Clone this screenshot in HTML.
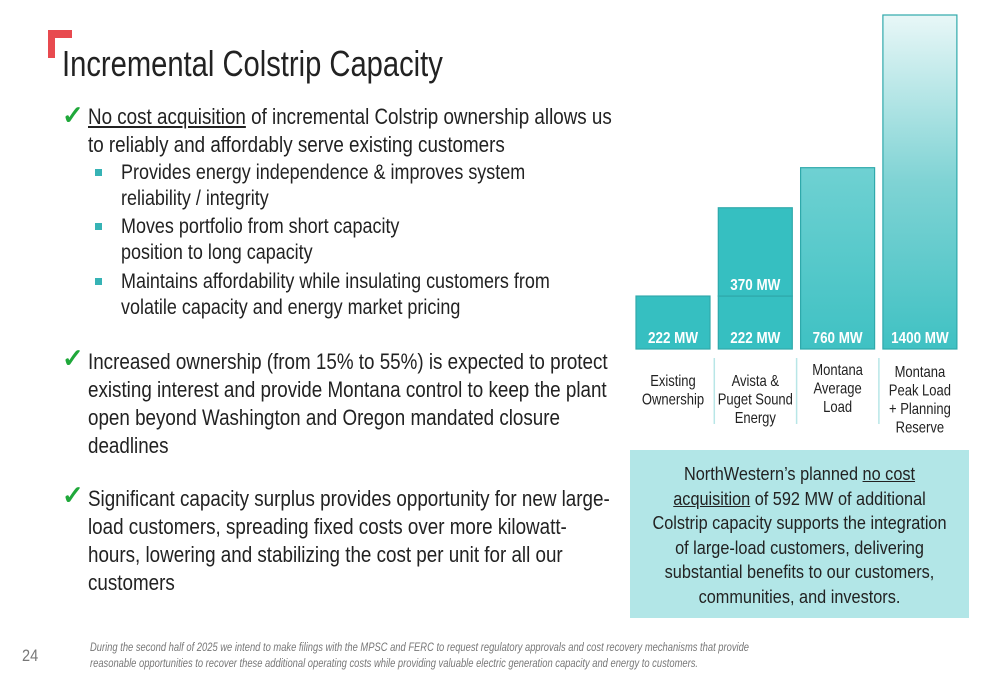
<!DOCTYPE html>
<html><head><meta charset="utf-8"><style>
body{margin:0;width:1000px;height:685px;background:#fff;position:relative;overflow:hidden;font-family:"Liberation Sans Narrow","Liberation Sans",sans-serif;color:#222}
.l{position:absolute;white-space:nowrap;transform:scaleX(0.855);transform-origin:left top}
.m{font-size:22px;line-height:28px}
.s{font-size:21px;line-height:26px}
.chk{position:absolute;color:#1fa83a;font-size:26px;font-weight:bold}
.sq{position:absolute;width:7px;height:7px;background:#36b3b5}
.c{position:absolute;white-space:nowrap;text-align:center;transform:scaleX(0.88)}
</style></head><body>
<div style="position:absolute;left:48px;top:30px;width:24px;height:8px;background:#e84a4f"></div>
<div style="position:absolute;left:48px;top:30px;width:7px;height:28px;background:#e84a4f"></div>
<div class="l" style="left:62px;top:42px;font-size:36px;line-height:44px;transform:scaleX(0.81)">Incremental Colstrip Capacity</div>

<div class="chk" style="left:62px;top:100px">✓</div>
<div class="l m" style="left:88px;top:103px"><u>No cost acquisition</u> of incremental Colstrip ownership allows us<br>to reliably and affordably serve existing customers</div>
<div class="sq" style="left:95px;top:169px"></div>
<div class="l s" style="left:121px;top:160px">Provides energy independence &amp; improves system<br>reliability / integrity</div>
<div class="sq" style="left:95px;top:223px"></div>
<div class="l s" style="left:121px;top:214px">Moves portfolio from short capacity<br>position to long capacity</div>
<div class="sq" style="left:95px;top:278px"></div>
<div class="l s" style="left:121px;top:269px">Maintains affordability while insulating customers from<br>volatile capacity and energy market pricing</div>

<div class="chk" style="left:62px;top:343px">✓</div>
<div class="l m" style="left:88px;top:348px">Increased ownership (from 15% to 55%) is expected to protect<br>existing interest and provide Montana control to keep the plant<br>open beyond Washington and Oregon mandated closure<br>deadlines</div>

<div class="chk" style="left:62px;top:480px">✓</div>
<div class="l m" style="left:88px;top:485px">Significant capacity surplus provides opportunity for new large-<br>load customers, spreading fixed costs over more kilowatt-<br>hours, lowering and stabilizing the cost per unit for all our<br>customers</div>

<svg id="chart" style="position:absolute;left:0;top:0" width="1000" height="450">
<defs>
<linearGradient id="g3" x1="0" y1="0" x2="0" y2="1"><stop offset="0" stop-color="#6fd1d2"/><stop offset="1" stop-color="#3fc1c3"/></linearGradient>
<linearGradient id="g4" x1="0" y1="0" x2="0" y2="1"><stop offset="0" stop-color="#e8f7f7"/><stop offset="0.5" stop-color="#7fd3d4"/><stop offset="1" stop-color="#3fc1c3"/></linearGradient>
</defs>
</svg>

<div style="position:absolute;left:630px;top:450px;width:339px;height:168px;background:#b2e6e7"></div>
<div class="c" style="left:630px;width:339px;top:462px;font-size:18.5px;line-height:24.6px;transform-origin:center top">NorthWestern’s planned <u>no cost</u><br><u>acquisition</u> of 592 MW of additional<br>Colstrip capacity supports the integration<br>of large-load customers, delivering<br>substantial benefits to our customers,<br>communities, and investors.</div>

<div class="l" style="left:22px;top:646px;font-size:17px;color:#777">24</div>
<div class="l" style="left:90px;top:640px;font-size:11.5px;line-height:16px;color:#777;font-style:italic;transform:scaleX(0.815)">During the second half of 2025 we intend to make filings with the MPSC and FERC to request regulatory approvals and cost recovery mechanisms that provide<br>reasonable opportunities to recover these additional operating costs while providing valuable electric generation capacity and energy to customers.</div>

<script>
const categories=["Existing Ownership","Avista & Puget Sound Energy","Montana Average Load","Montana Peak Load + Planning Reserve"];
const baseValues=[222,222,760,1400];
const stackValues=[0,370,0,0];
const baseLabels=["222 MW","222 MW","760 MW","1400 MW"];
const stackLabels=["","370 MW","",""];
const catLines=[["Existing","Ownership"],["Avista &","Puget Sound","Energy"],["Montana","Average","Load"],["Montana","Peak Load","+ Planning","Reserve"]];
const fills=["#36bfc1","#36bfc1","url(#g3)","url(#g4)"];
const NS="http://www.w3.org/2000/svg";
const svg=document.getElementById('chart');
const baseY=349, scale=334/1400;
const y=v=>baseY-v*scale;
const x=i=>636+i*82.3;
const bw=74;
function mk(t,a,p){const e=document.createElementNS(NS,t);for(const k in a)e.setAttribute(k,a[k]);(p||svg).appendChild(e);return e;}
function txt(cx,cy,str,size,bold,fill){
  const g=mk('g',{transform:'translate('+cx+','+cy+') scale(0.84,1)'});
  const t=mk('text',{x:0,y:0,'text-anchor':'middle',fill:fill,'font-size':size,'font-weight':bold?'bold':'normal','font-family':'Liberation Sans, sans-serif'},g);
  t.textContent=str;
  return t;
}
categories.forEach((c,i)=>{
  const r=mk('rect',{x:x(i),y:y(baseValues[i]),width:bw,height:baseValues[i]*scale,fill:fills[i],stroke:'#2fa9ab','stroke-width':1.2});
  
  
  const t=txt(x(i)+bw/2,baseY-6,baseLabels[i],16,true,'#fff');
  
  
  if(stackValues[i]>0){
    const tot=baseValues[i]+stackValues[i];
    const s=mk('rect',{x:x(i),y:y(tot),width:bw,height:stackValues[i]*scale,fill:'#36bfc1',stroke:'#2fa9ab','stroke-width':1.2});
    
    
    const st=txt(x(i)+bw/2,y(baseValues[i])-6,stackLabels[i],16,true,'#fff');
    
    
  }
  if(i>0){
    const d=mk('line',{x1:x(i)-4,x2:x(i)-4,y1:358,y2:424,stroke:'#b8e6e7','stroke-width':1.5});
    
    
  }
  const lines=catLines[i];
  const startY=lines.length===4?377:(i===2?375:386);
  lines.forEach((ln,j)=>{
    const ct=txt(x(i)+bw/2,startY+j*18.5,ln,15.5,false,'#222');
    
    
  });
});
</script>
</body></html>
